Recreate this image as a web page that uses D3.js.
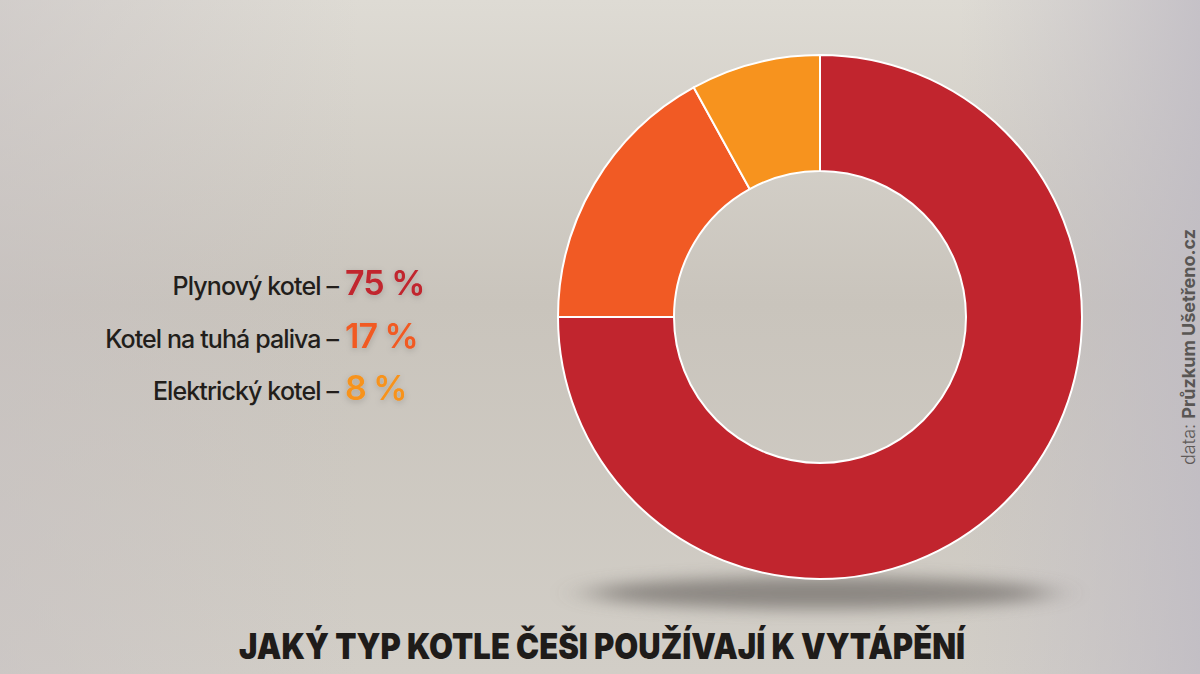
<!DOCTYPE html>
<html lang="cs">
<head>
  <meta charset="UTF-8">
  <script src="https://d3js.org/d3.v7.min.js"></script>
  <style>
    body { margin: 0; overflow: hidden; }
    #chart { width: 1200px; height: 674px; }
    text { font-family: Inter, "Liberation Sans", sans-serif; }
  </style>
</head>
<body>
  <div id="chart"></div>

  <script>
    // data
    var categories = ["Plynový kotel", "Kotel na tuhá paliva", "Elektrický kotel"];
    var values = [75, 17, 8];
    var colors = ["#c1252e", "#f15a24", "#f7931e"];
    var title = "JAKÝ TYP KOTLE ČEŠI POUŽÍVAJÍ K VYTÁPĚNÍ";

    var width = 1200;
    var height = 674;

    var svg = d3.select("#chart")
      .append("svg")
      .attr("width", width)
      .attr("height", height);

    var defs = svg.append("defs");

    // background gradients
    var bg = defs.append("linearGradient")
      .attr("id", "bg")
      .attr("x1", 0).attr("y1", 0).attr("x2", 0).attr("y2", 1);
    bg.append("stop").attr("offset", "0%").attr("stop-color", "#dedbd4");
    bg.append("stop").attr("offset", "45%").attr("stop-color", "#c9c4bc");
    bg.append("stop").attr("offset", "100%").attr("stop-color", "#d2cec7");

    var side = defs.append("linearGradient")
      .attr("id", "side")
      .attr("x1", 0).attr("y1", 0).attr("x2", 1).attr("y2", 0);
    side.append("stop").attr("offset", "0%").attr("stop-color", "#c6c0c2").attr("stop-opacity", 0.5);
    side.append("stop").attr("offset", "30%").attr("stop-color", "#c6c0c2").attr("stop-opacity", 0);
    side.append("stop").attr("offset", "80%").attr("stop-color", "#c4c0c6").attr("stop-opacity", 0);
    side.append("stop").attr("offset", "100%").attr("stop-color", "#bfbbc4").attr("stop-opacity", 0.8);

    defs.append("filter")
      .attr("id", "blur")
      .attr("x", "-50%").attr("y", "-200%").attr("width", "200%").attr("height", "500%")
      .append("feGaussianBlur")
      .attr("stdDeviation", "20 8");

    var glow = defs.append("filter")
      .attr("id", "glow")
      .attr("x", "-20%").attr("y", "-40%").attr("width", "140%").attr("height", "180%");
    glow.append("feDropShadow")
      .attr("dx", 0).attr("dy", 2)
      .attr("stdDeviation", 3)
      .attr("flood-color", "#000")
      .attr("flood-opacity", 0.18);

    svg.append("rect").attr("width", width).attr("height", height).attr("fill", "url(#bg)");
    svg.append("rect").attr("width", width).attr("height", height).attr("fill", "url(#side)");

    // donut
    var cx = 820, cy = 317;
    var outerR = 262, innerR = 146;

    svg.append("ellipse")
      .attr("cx", cx)
      .attr("cy", cy + outerR + 14)
      .attr("rx", outerR - 30)
      .attr("ry", 16)
      .attr("fill", "#5f5a57")
      .attr("opacity", 0.6)
      .attr("filter", "url(#blur)");

    var pie = d3.pie().sort(null).value(function (d) { return d; });
    var arc = d3.arc().innerRadius(innerR).outerRadius(outerR);

    var g = svg.append("g")
      .attr("transform", "translate(" + cx + "," + cy + ")");

    g.selectAll("path")
      .data(pie(values))
      .enter()
      .append("path")
      .attr("d", arc)
      .attr("fill", function (d, i) { return colors[i]; })
      .attr("stroke", "#fff")
      .attr("stroke-width", 2)
      .attr("stroke-linejoin", "round");

    // labels
    var y = d3.scalePoint()
      .domain(categories)
      .range([295, 400]);

    var labels = svg.append("g");

    labels.selectAll(".cat")
      .data(categories)
      .enter()
      .append("text")
      .attr("class", "cat")
      .attr("x", 338)
      .attr("y", function (d) { return y(d); })
      .attr("text-anchor", "end")
      .attr("font-size", 25)
      .attr("font-weight", 500)
      .attr("letter-spacing", -0.9)
      .attr("fill", "#221e1b")
      .text(function (d) { return d + " –"; });

    labels.selectAll(".val")
      .data(categories)
      .enter()
      .append("text")
      .attr("class", "val")
      .attr("x", 345)
      .attr("y", function (d) { return y(d); })
      .attr("font-size", 34)
      .attr("font-weight", 600)
      .attr("letter-spacing", -1)
      .attr("fill", function (d, i) { return colors[i]; })
      .attr("filter", "url(#glow)")
      .text(function (d, i) { return values[i] + " %"; });

    // title
    svg.append("text")
      .attr("x", 602)
      .attr("y", 659)
      .attr("text-anchor", "middle")
      .attr("font-family", "Roboto, sans-serif")
      .attr("font-size", 35)
      .attr("font-weight", 900)
      .attr("fill", "#1f1c1a")
      .attr("textLength", 726)
      .attr("lengthAdjust", "spacingAndGlyphs")
      .text(title);

    // source
    var src = svg.append("text")
      .attr("transform", "translate(1195,465) rotate(-90)")
      .attr("font-size", 18)
      .attr("fill", "#5e5a58");
    src.append("tspan").attr("font-weight", 300).text("data: ");
    src.append("tspan").attr("font-weight", 700).attr("fill", "#595654").text("Průzkum Ušetřeno.cz");
  </script>
</body>
</html>
